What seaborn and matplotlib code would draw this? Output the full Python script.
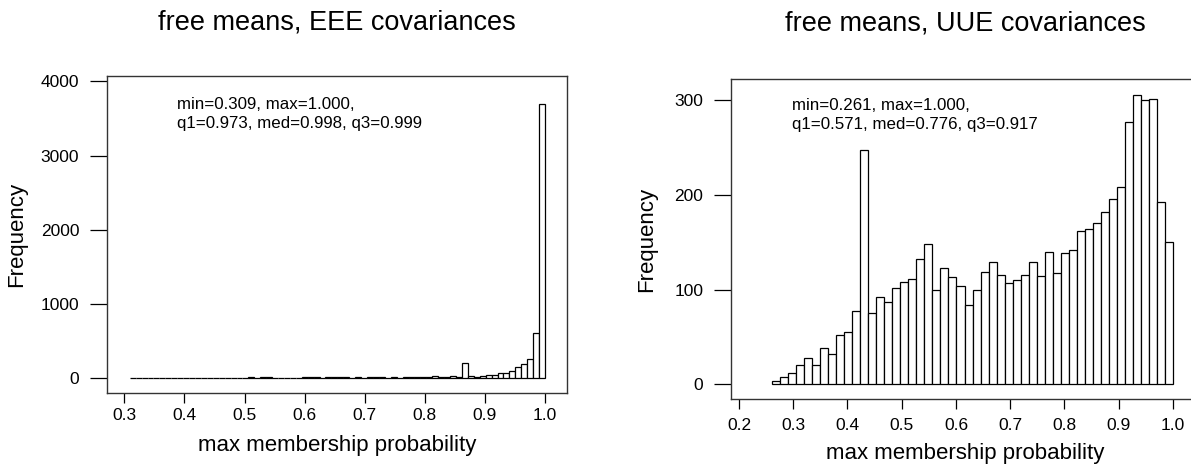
import numpy as np
import pandas as pd
import seaborn as sns
import matplotlib.pyplot as plt

# bin counts
eee_counts = [1, 0, 2, 1, 2, 1, 3, 2, 2, 3, 2, 3, 2, 4, 3, 3, 4, 3, 4, 5,
              12, 6, 13, 13, 5, 6, 5, 6, 7, 13, 14, 12, 8, 13, 14, 13, 12, 7, 11, 6,
              13, 14, 13, 8, 12, 8, 14, 15, 15, 16, 17, 26, 16, 17, 26, 14,
              211, 31, 13, 31, 45, 45, 72, 72, 99, 157, 193, 260, 606, 3695]
eee_range = (0.309, 1.000)

uue_counts = [4, 8, 12, 20, 28, 20, 38, 32, 52, 55,
              77, 247, 75, 92, 87, 102, 108, 111, 132, 148,
              100, 123, 113, 104, 84, 100, 119, 129, 115, 107,
              110, 116, 129, 114, 140, 118, 139, 142, 162, 164,
              170, 182, 196, 208, 277, 306, 300, 301, 193, 150]
uue_range = (0.261, 1.000)

titles = ["free means, EEE covariances", "free means, UUE covariances"]
notes = ["min=0.309, max=1.000,\nq1=0.973, med=0.998, q3=0.999",
         "min=0.261, max=1.000,\nq1=0.571, med=0.776, q3=0.917"]
x_ticks = [[0.3, 0.4, 0.5, 0.6, 0.7, 0.8, 0.9, 1.0],
           [0.2, 0.3, 0.4, 0.5, 0.6, 0.7, 0.8, 0.9, 1.0]]
y_ticks = [[0, 1000, 2000, 3000, 4000], [0, 100, 200, 300]]

sns.set_style("ticks")
plt.rcParams["font.family"] = ["Liberation Sans", "DejaVu Sans"]
plt.rcParams["text.color"] = "black"
plt.rcParams["xtick.color"] = "black"
plt.rcParams["ytick.color"] = "black"
plt.rcParams["axes.labelcolor"] = "black"

fig = plt.figure(figsize=(11.91, 4.66), dpi=100)
W, H = 1191, 466


def px_axes(x0, y0, x1, y1):
    return fig.add_axes([x0 / W, 1 - y1 / H, (x1 - x0) / W, (y1 - y0) / H])


ax1 = px_axes(107, 76, 567, 393)
ax2 = px_axes(731, 79, 1200, 399)

# axes, counts, range, xlim, ylim, title y, note xy, x tick pad
panels = [(ax1, eee_counts, eee_range, (0.2712, 1.0366), (-198, 4071),
           1.170, (0.153, 0.880), 3, -0.167, -0.196),
          (ax2, uue_counts, uue_range, (0.1853, 1.0498), (-15.5, 322.5),
           1.174, (0.130, 0.888), 6, -0.169, -0.179)]

for i, (ax, counts, rng, xlim, ylim, ty, nxy, xpad, xly, ylx) in enumerate(panels):
    edges = np.linspace(rng[0], rng[1], len(counts) + 1)
    df = pd.DataFrame({"center": (edges[:-1] + edges[1:]) / 2,
                       "count": counts})
    sns.histplot(data=df, x="center", weights="count", bins=list(edges), ax=ax,
                 color="white", edgecolor="black", linewidth=0.9, alpha=1)
    ax.set_xlim(*xlim)
    ax.set_ylim(*ylim)
    ax.set_xticks(x_ticks[i])
    ax.set_xticklabels([f"{t:.1f}" for t in x_ticks[i]])
    ax.set_yticks(y_ticks[i])
    ax.tick_params(axis="x", direction="out", length=7.5, width=0.9,
                   labelsize=12.5, pad=xpad)
    ax.tick_params(axis="y", direction="out", length=12, width=0.9,
                   labelsize=12.5, pad=8)
    for s in ax.spines.values():
        s.set_visible(True)
        s.set_color("#333333")
        s.set_linewidth(1.0)
    ax.set_xlabel("max membership probability", fontsize=16, va="center")
    ax.xaxis.set_label_coords(0.5, xly)
    ax.set_ylabel("Frequency", fontsize=16, va="center")
    ax.yaxis.set_label_coords(ylx, 0.5)
    ax.set_title(titles[i], fontsize=19.5, y=ty, pad=0, va="center")
    ax.text(nxy[0], nxy[1], notes[i], transform=ax.transAxes, fontsize=12.2,
            va="center", ha="left", linespacing=1.3)

plt.savefig("out.png", dpi=100)
